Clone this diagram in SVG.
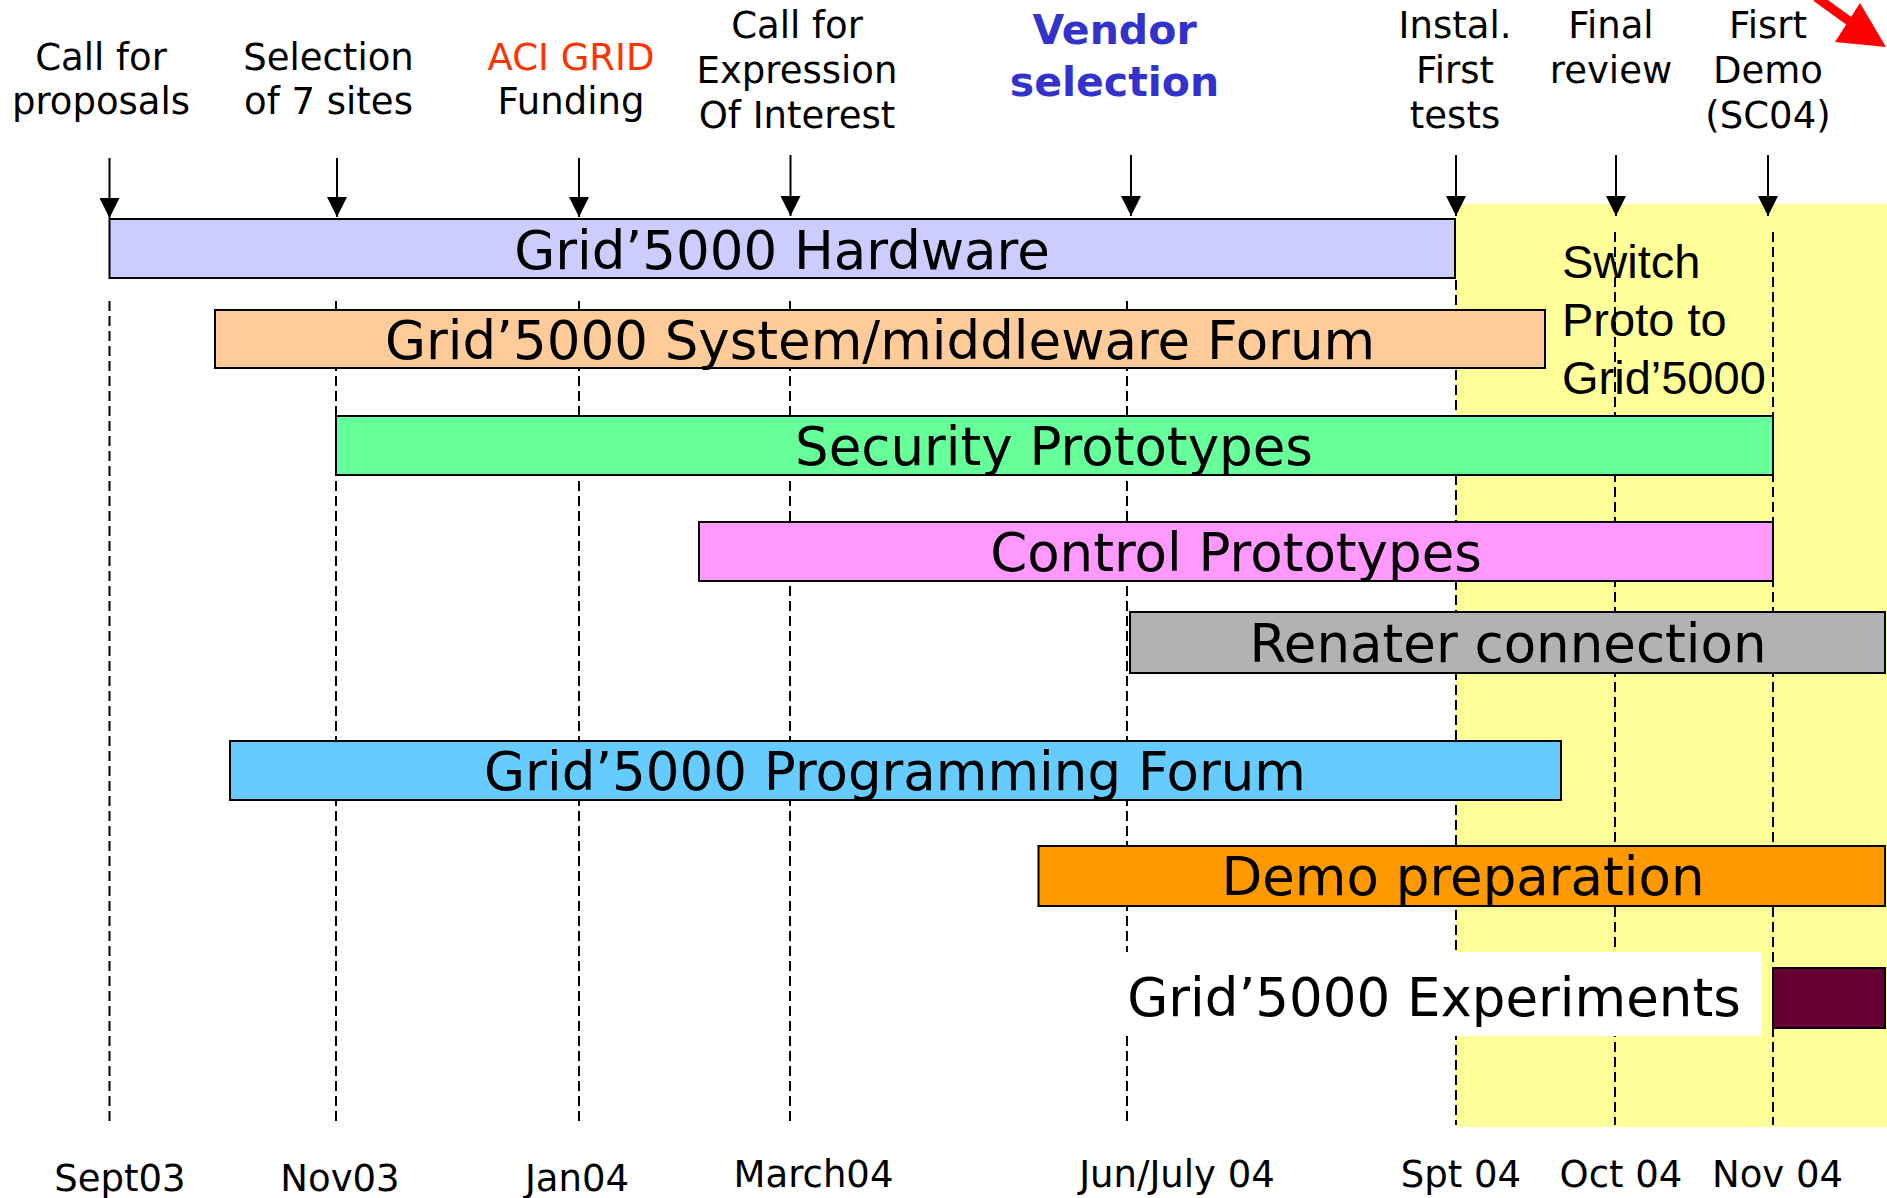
<svg xmlns="http://www.w3.org/2000/svg" width="1887" height="1198" viewBox="0 0 1887 1198">
<style>
.lbl{font-family:"DejaVu Sans",Verdana,sans-serif;font-size:37px;fill:#000;text-anchor:middle}
.date{font-family:"DejaVu Sans",Verdana,sans-serif;font-size:37px;fill:#000;text-anchor:middle}
.bar{stroke:#000;stroke-width:2}
.bt{font-family:"DejaVu Sans",Verdana,sans-serif;font-size:53px;fill:#000;text-anchor:middle}
.grid{stroke:#000;stroke-width:2;stroke-dasharray:10 5;fill:none}
.arr{stroke:#000;stroke-width:2;fill:none;marker-end:url(#ah)}
</style>
<defs>
<marker id="ah" viewBox="0 0 20 20" refX="20" refY="10" markerWidth="20" markerHeight="20" markerUnits="userSpaceOnUse" orient="auto">
<path d="M0,0 L20,10 L0,20 z" fill="#000"/>
</marker>
</defs>
<rect x="0" y="0" width="1887" height="1198" fill="#fff"/>
<rect id="period-highlight" x="1456" y="204" width="431" height="923" fill="#FFFF99"/>
<g id="gridlines">
<line class="grid" x1="109.5" y1="301" x2="109.5" y2="1125"/>
<line class="grid" x1="336" y1="301" x2="336" y2="1125"/>
<line class="grid" x1="579" y1="301" x2="579" y2="1125"/>
<line class="grid" x1="790" y1="301" x2="790" y2="1125"/>
<line class="grid" x1="1127" y1="301" x2="1127" y2="1125"/>
<line class="grid" x1="1456" y1="280" x2="1456" y2="1125"/>
<line class="grid" x1="1615" y1="232" x2="1615" y2="1125"/>
<line class="grid" x1="1773" y1="232" x2="1773" y2="1125"/>
</g>
<g id="switch-note">
<text font-family="'Liberation Sans',Arial,sans-serif" font-size="47" fill="#000"><tspan x="1562" y="278">Switch</tspan><tspan x="1562" y="336">Proto to</tspan><tspan x="1562" y="394">Grid’5000</tspan></text>
</g>
<g id="hardware"><rect class="bar" x="109.5" y="219" width="1345.5" height="59" fill="#CCCCFF"/><text class="bt" x="782" y="269">Grid’5000 Hardware</text></g>
<g id="system-forum"><rect class="bar" x="215" y="310" width="1330" height="58" fill="#FFCC99"/><text class="bt" x="880" y="359">Grid’5000 System/middleware Forum</text></g>
<g id="security"><rect class="bar" x="336" y="416" width="1437" height="59" fill="#66FF99"/><text class="bt" x="1054" y="465">Security Prototypes</text></g>
<g id="control"><rect class="bar" x="699" y="522" width="1074" height="59" fill="#FF99FF"/><text class="bt" x="1236" y="571">Control Prototypes</text></g>
<g id="renater"><rect class="bar" x="1130" y="612" width="755" height="61" fill="#B2B2B2"/><text class="bt" x="1508" y="662">Renater connection</text></g>
<g id="programming-forum"><rect class="bar" x="230" y="741" width="1331" height="59" fill="#66CCFF"/><text class="bt" x="895" y="790">Grid’5000 Programming Forum</text></g>
<g id="demo-prep"><rect class="bar" x="1038.5" y="846" width="846.5" height="60" fill="#FF9900"/><text class="bt" x="1463" y="895">Demo preparation</text></g>
<g id="experiments"><rect x="1114" y="952" width="647" height="84" fill="#fff"/><rect class="bar" x="1773" y="968" width="112" height="60" fill="#660033"/><text class="bt" x="1434" y="1016">Grid’5000 Experiments</text></g>
<g id="connectors">
<line class="arr" x1="109.5" y1="158" x2="109.5" y2="218"/>
<line class="arr" x1="337" y1="158" x2="337" y2="217"/>
<line class="arr" x1="579" y1="158" x2="579" y2="217"/>
<line class="arr" x1="790.5" y1="155" x2="790.5" y2="216"/>
<line class="arr" x1="1131" y1="155" x2="1131" y2="216"/>
<line class="arr" x1="1456" y1="155" x2="1456" y2="216"/>
<line class="arr" x1="1616" y1="155" x2="1616" y2="216"/>
<line class="arr" x1="1768" y1="155" x2="1768" y2="216"/>
<g id="red-arrow" fill="#FF0000">
<line x1="1816" y1="-3" x2="1856" y2="26" stroke="#FF0000" stroke-width="9"/>
<polygon points="1860,3 1886,47 1835,42"/>
</g>
</g>
<g id="milestones">
<g id="m-call"><text class="lbl"><tspan x="101" y="70">Call for</tspan><tspan x="101" y="114">proposals</tspan></text></g>
<g id="m-selection"><text class="lbl"><tspan x="328.5" y="70">Selection</tspan><tspan x="328.5" y="114">of 7 sites</tspan></text></g>
<g id="m-aci"><text class="lbl"><tspan x="571" y="70" fill="#FF3300">ACI GRID</tspan><tspan x="571" y="114">Funding</tspan></text></g>
<g id="m-eoi"><text class="lbl"><tspan x="797" y="38">Call for</tspan><tspan x="797" y="83">Expression</tspan><tspan x="797" y="128">Of Interest</tspan></text></g>
<g id="m-vendor"><text class="lbl" style="font-size:41px;font-weight:bold;fill:#3333CC"><tspan x="1114.5" y="44">Vendor</tspan><tspan x="1114.5" y="96">selection</tspan></text></g>
<g id="m-instal"><text class="lbl"><tspan x="1455" y="38">Instal.</tspan><tspan x="1455" y="83">First</tspan><tspan x="1455" y="128">tests</tspan></text></g>
<g id="m-review"><text class="lbl"><tspan x="1611" y="38">Final</tspan><tspan x="1611" y="83">review</tspan></text></g>
<g id="m-demo"><text class="lbl"><tspan x="1768" y="38">Fisrt</tspan><tspan x="1768" y="83">Demo</tspan><tspan x="1768" y="128">(SC04)</tspan></text></g>
</g>
<g id="dates">
<text class="date" x="120" y="1191">Sept03</text>
<text class="date" x="340" y="1191">Nov03</text>
<text class="date" x="577" y="1191">Jan04</text>
<text class="date" x="813.5" y="1187">March04</text>
<text class="date" x="1177" y="1187">Jun/July 04</text>
<text class="date" x="1461" y="1187">Spt 04</text>
<text class="date" x="1621" y="1187">Oct 04</text>
<text class="date" x="1777.5" y="1187">Nov 04</text>
</g>
</svg>
